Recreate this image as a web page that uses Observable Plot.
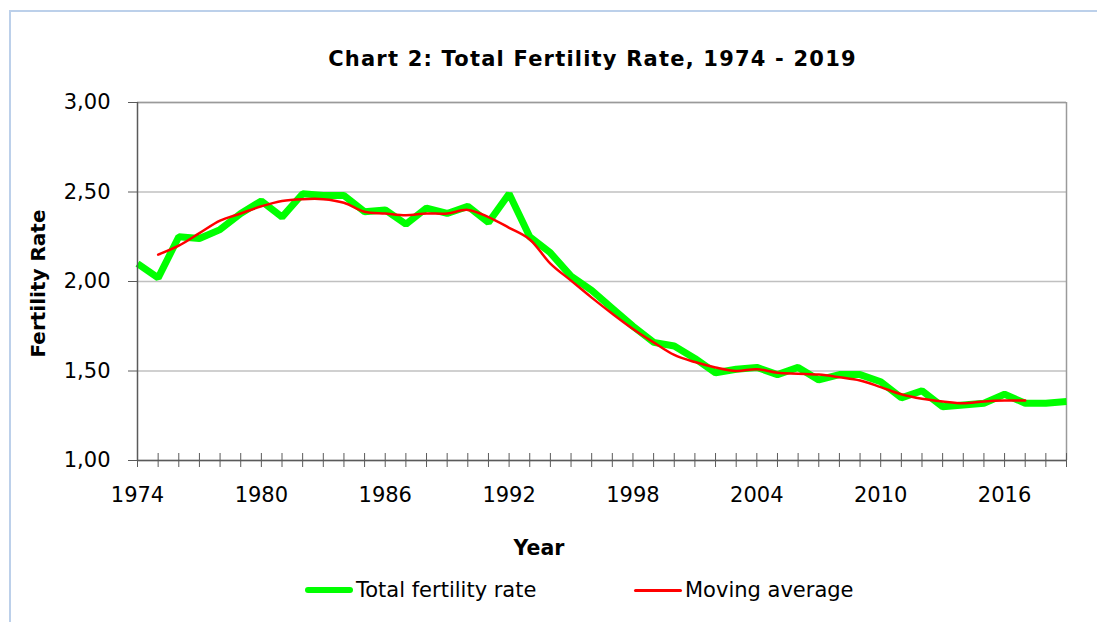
<!DOCTYPE html>
<html>
<head>
<meta charset="utf-8">
<script src="https://cdn.jsdelivr.net/npm/d3@7"></script>
<script src="https://cdn.jsdelivr.net/npm/@observablehq/plot@0.6"></script>
<style>
  html, body { margin: 0; padding: 0; background: #fff; }
  body { width: 1097px; height: 622px; position: relative; overflow: hidden; font-family: "DejaVu Sans", Verdana, sans-serif; color: #000; }
  #frame { position: absolute; left: 9px; top: 10px; width: 1200px; height: 700px; border-left: 2px solid #bcd0ea; border-top: 2px solid #bcd0ea; }
  #title { position: absolute; left: 0; top: 47px; width: 1185px; text-align: center; font-weight: bold; font-size: 21px; letter-spacing: 1.2px; }
  #chart { position: absolute; left: 0; top: 80px; }
  .leg { position: absolute; top: 578px; display: flex; align-items: center; font-size: 21px; }
  .sw { display: inline-block; width: 48px; margin-right: 3px; border-radius: 3px; }
</style>
</head>
<body>
<div id="frame"></div>
<div id="title">Chart 2: Total Fertility Rate, 1974 - 2019</div>
<div id="chart"></div>
<div class="leg" style="left:305px"><span class="sw" style="height:6px;background:#00ff00"></span>Total fertility rate</div>
<div class="leg" style="left:634px"><span class="sw" style="height:3px;background:#ff0000"></span>Moving average</div>
<script>
const years = [1974,1975,1976,1977,1978,1979,1980,1981,1982,1983,1984,1985,1986,1987,1988,1989,1990,1991,1992,1993,1994,1995,1996,1997,1998,1999,2000,2001,2002,2003,2004,2005,2006,2007,2008,2009,2010,2011,2012,2013,2014,2015,2016,2017,2018,2019];
const tfr = [2.10,2.02,2.25,2.24,2.29,2.38,2.45,2.36,2.49,2.48,2.48,2.39,2.40,2.32,2.41,2.38,2.42,2.33,2.49,2.25,2.16,2.03,1.95,1.85,1.75,1.66,1.64,1.57,1.49,1.51,1.52,1.48,1.52,1.45,1.48,1.48,1.44,1.35,1.39,1.30,1.31,1.32,1.37,1.32,1.32,1.33];
const maYears = [1975,1976,1977,1978,1979,1980,1981,1982,1983,1984,1985,1986,1987,1988,1989,1990,1991,1992,1993,1994,1995,1996,1997,1998,1999,2000,2001,2002,2003,2004,2005,2006,2007,2008,2009,2010,2011,2012,2013,2014,2015,2016,2017];
const movingAvg = [2.15,2.20,2.27,2.34,2.38,2.42,2.45,2.46,2.46,2.44,2.39,2.38,2.37,2.38,2.38,2.40,2.36,2.30,2.235,2.10,2.005,1.91,1.82,1.735,1.66,1.59,1.55,1.52,1.50,1.51,1.49,1.485,1.48,1.465,1.447,1.41,1.37,1.345,1.33,1.32,1.33,1.335,1.335];
const yTicks = [1.0,1.5,2.0,2.5,3.0];
const xLabelYears = [1974,1980,1986,1992,1998,2004,2010,2016];

const tfrData = years.map((y, i) => ({year: y, value: tfr[i]}));
const maData = maYears.map((y, i) => ({year: y, value: movingAvg[i]}));

const chart = Plot.plot({
  width: 1097,
  height: 490,
  marginLeft: 137,
  marginRight: 31,
  marginTop: 22,
  marginBottom: 110,
  style: {fontFamily: "'DejaVu Sans', Verdana, sans-serif", fontSize: "21px", color: "#000", background: "transparent", overflow: "visible"},
  x: {domain: [1974, 2019]},
  y: {domain: [1, 3]},
  marks: [
    Plot.gridY(yTicks, {stroke: "#c0c0c0", strokeOpacity: 1, strokeWidth: 1.5}),
    Plot.ruleY([3], {stroke: "#9a9a9a", strokeWidth: 1.5}),
    Plot.ruleX([2019], {stroke: "#9a9a9a", strokeWidth: 1.5}),
    Plot.line(tfrData, {x: "year", y: "value", stroke: "#00ff00", strokeWidth: 7, strokeLinejoin: "miter", strokeLinecap: "butt"}),
    Plot.line(maData, {x: "year", y: "value", stroke: "#ff0000", strokeWidth: 2.5, curve: "catmull-rom"}),
    Plot.ruleX([1974], {stroke: "#5a5a5a", strokeWidth: 1.5}),
    Plot.ruleY([1], {stroke: "#5a5a5a", strokeWidth: 1.5}),
    Plot.axisY({ticks: yTicks, tickSize: 9, tickPadding: 18, stroke: "#5a5a5a", tickFormat: d => d.toFixed(2).replace(".", ","), label: null}),
    Plot.axisX({ticks: years, tickSize: 14, dy: -7, stroke: "#5a5a5a", tickFormat: () => "", label: null}),
    Plot.axisX({ticks: xLabelYears, tickSize: 0, tickPadding: 27, tickFormat: d => String(d), label: null}),
    Plot.text(["Year"], {frameAnchor: "bottom", dx: -63, dy: 94, fontWeight: "bold", fontSize: 20.5, text: d => d}),
    Plot.text(["Fertility Rate"], {frameAnchor: "left", textAnchor: "middle", dx: -99, dy: 2, rotate: -90, fontWeight: "bold", fontSize: 20, text: d => d})
  ]
});
document.getElementById("chart").appendChild(chart);
</script>
</body>
</html>
